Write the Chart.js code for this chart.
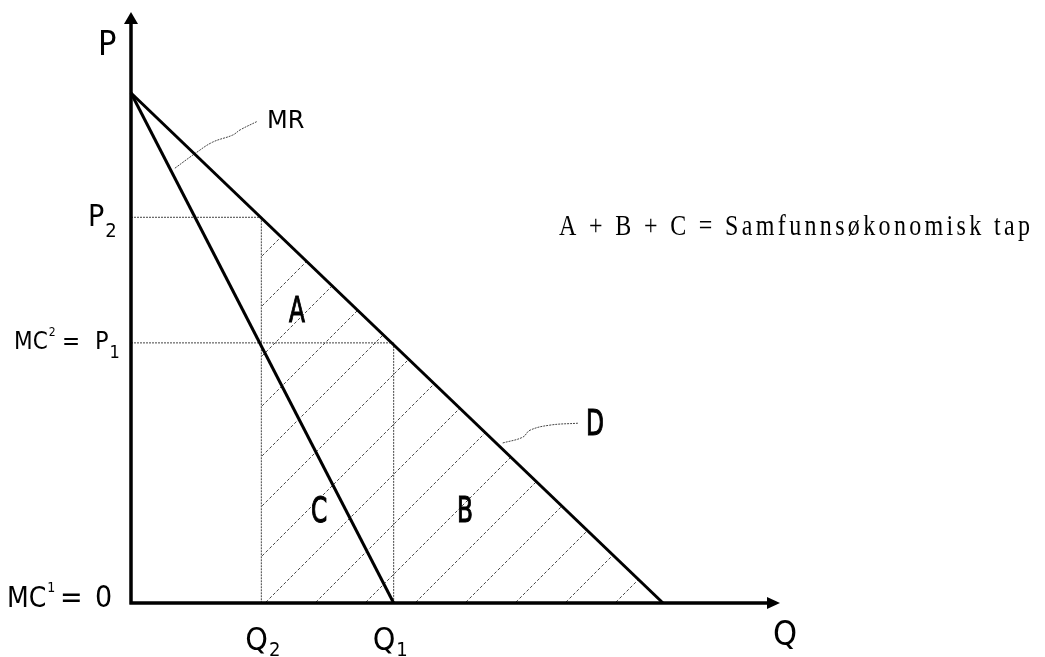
<!DOCTYPE html>
<html>
<head>
<meta charset="utf-8">
<script src="https://cdn.jsdelivr.net/npm/chart.js@4.4.1/dist/chart.umd.min.js"></script>
<style>
  body { margin: 0; background: #fff; }
  canvas { display: block; }
</style>
</head>
<body>
<canvas id="grafico" width="1045" height="657"></canvas>
<script>
// Etterspørsel (D) og marginalinntekt (MR)
const demandQ = [0, 8];
const demandP = [8, 0];
const mrQ = [0, 3.95];
const mrP = [8, 0];

// Monopol- og konkurranselikevekt
const q2 = 1.96, p2 = 6.05;
const q1 = 3.95, p1 = 4.08;

// Skravert område A + B + C (fra Q2 langs D ned til aksen)
const lossQ = [q2, 8];
const lossP = [p2, 0];

// Stiplede "pekere" til MR og D
const mrLeaderQ = [0.66, 0.99, 1.23, 1.53, 1.64, 1.89];
const mrLeaderP = [6.82, 7.07, 7.23, 7.34, 7.42, 7.55];
const dLeaderQ = [5.59, 5.89, 6.0, 6.3, 6.72];
const dLeaderP = [2.51, 2.6, 2.71, 2.79, 2.82];

// Aksenes lengde
const axisMaxQ = 9.76;
const axisMaxP = 9.27;

const pts = (xs, ys) => xs.map((x, i) => ({ x: x, y: ys[i] }));

// Mønster med skrå stiplede linjer
function lagSkravur() {
  const c = document.createElement("canvas");
  c.width = 50;
  c.height = 50;
  const g = c.getContext("2d");
  g.strokeStyle = "#444";
  g.lineWidth = 1;
  g.setLineDash([3, 2]);
  g.beginPath();
  g.moveTo(-2, 20); g.lineTo(20, -2);
  g.moveTo(16, 52); g.lineTo(52, 16);
  g.stroke();
  return g.createPattern(c, "repeat");
}

const ctx = document.getElementById("grafico").getContext("2d");
const cond = "'DejaVu Sans Condensed', 'DejaVu Sans', sans-serif";

// tekst med senket / hevet tegn rett etter
function skrivMed(c, main, ekstra, x, y, font, ekstraFont, dy) {
  c.font = font;
  c.fillText(main, x, y);
  const w = c.measureText(main).width;
  c.font = ekstraFont;
  c.fillText(ekstra, x + w + 1, y + dy);
  return x + w + 1 + c.measureText(ekstra).width;
}

const tekstPlugin = {
  id: "tekst",
  afterDraw(chart) {
    const c = chart.ctx;
    const xs = chart.scales.x, ys = chart.scales.y;
    const x0 = xs.getPixelForValue(0), y0 = ys.getPixelForValue(0);
    const xEnd = xs.getPixelForValue(axisMaxQ), yEnd = ys.getPixelForValue(axisMaxP);

    c.save();
    // akser
    c.strokeStyle = "#000";
    c.fillStyle = "#000";
    c.lineWidth = 3.5;
    c.beginPath();
    c.moveTo(x0, y0 + 1.5);
    c.lineTo(x0, yEnd + 8);
    c.moveTo(x0 - 1.5, y0);
    c.lineTo(xEnd - 8, y0);
    c.stroke();
    c.beginPath();
    c.moveTo(x0, yEnd);
    c.lineTo(x0 - 7, yEnd + 12);
    c.lineTo(x0 + 7, yEnd + 12);
    c.closePath();
    c.fill();
    c.beginPath();
    c.moveTo(xEnd, y0);
    c.lineTo(xEnd - 13, y0 - 6);
    c.lineTo(xEnd - 13, y0 + 6);
    c.closePath();
    c.fill();

    // etiketter
    c.textBaseline = "alphabetic";
    c.textAlign = "left";
    c.font = "34px " + cond;
    c.fillText("P", x0 - 33, 55);
    c.fillText("Q", xEnd - 7, 645);

    skrivMed(c, "P", "2", x0 - 43, ys.getPixelForValue(p2) + 9, "30px " + cond, "20px " + cond, 11);

    // MC² = P₁
    const yp1 = ys.getPixelForValue(p1) + 6;
    skrivMed(c, "MC", "2", 14, yp1, "24px " + cond, "12px " + cond, -13);
    c.font = "24px " + cond;
    c.fillText("=", 62, yp1);
    skrivMed(c, "P", "1", 95, yp1, "25px " + cond, "18px " + cond, 9);

    // MC¹ = 0
    skrivMed(c, "MC", "1", 7, y0 + 4, "28px " + cond, "14px " + cond, -15);
    c.font = "30px " + cond;
    c.fillText("=", 60, y0 + 4);
    c.fillText("0", 95, y0 + 4);

    skrivMed(c, "Q", "2", xs.getPixelForValue(q2) - 16, 650, "32px " + cond, "20px " + cond, 6);
    skrivMed(c, "Q", "1", xs.getPixelForValue(q1) - 21, 650, "32px " + cond, "20px " + cond, 6);

    c.font = "24px 'DejaVu Sans', sans-serif";
    c.fillText("MR", 267, 128);

    // A, B, C, D – smale bokstaver
    const smal = (t, x, y) => {
      c.save();
      c.translate(x, y);
      c.scale(0.74, 1);
      c.font = "35px " + cond;
      c.lineWidth = 1;
      c.fillText(t, 0, 0);
      c.strokeText(t, 0, 0);
      c.restore();
    };
    smal("A", 289, 322);
    smal("C", 311, 522);
    smal("B", 457, 522);
    smal("D", 586, 435);

    // A + B + C = Samfunnsøkonomisk tap
    const tekst = "A + B + C = Samfunnsøkonomisk tap";
    const sx = 0.8, start = 559, slutt = 1030;
    c.font = "30px 'Liberation Serif', 'Times New Roman', serif";
    const w = c.measureText(tekst).width;
    const sp = ((slutt - start) / sx - w) / (tekst.length - 1);
    for (let i = 0; i < tekst.length; i++) {
      const px = start + (c.measureText(tekst.slice(0, i)).width + i * sp) * sx;
      c.save();
      c.translate(px, 235);
      c.scale(sx, 1);
      c.fillText(tekst[i], 0, 0);
      c.restore();
    }
    c.restore();
  },
};

const stipletGuide = {
  borderColor: "#444",
  borderWidth: 1,
  borderDash: [2, 1],
  pointRadius: 0,
  fill: false,
  clip: false,
};

new Chart(ctx, {
  type: "line",
  data: {
    datasets: [
      { label: "D", data: pts(demandQ, demandP), borderColor: "#000", borderWidth: 3, pointRadius: 0, fill: false, clip: false },
      { label: "MR", data: pts(mrQ, mrP), borderColor: "#000", borderWidth: 3, pointRadius: 0, fill: false, clip: false },
      { label: "P2", data: pts([0, q2], [p2, p2]), ...stipletGuide },
      { label: "Q2", data: pts([q2, q2], [p2, 0]), ...stipletGuide },
      { label: "P1", data: pts([0, q1], [p1, p1]), ...stipletGuide },
      { label: "Q1", data: pts([q1, q1], [p1, 0]), ...stipletGuide },
      { label: "MR-peker", data: pts(mrLeaderQ, mrLeaderP), ...stipletGuide, tension: 0.4 },
      { label: "D-peker", data: pts(dLeaderQ, dLeaderP), ...stipletGuide, tension: 0.4 },
      {
        label: "Tap",
        data: pts(lossQ, lossP),
        borderWidth: 0,
        pointRadius: 0,
        backgroundColor: lagSkravur(),
        fill: "origin",
        clip: false,
      },
    ],
  },
  options: {
    responsive: false,
    animation: false,
    layout: { padding: { left: 131, right: 265, top: 12, bottom: 54 } },
    plugins: { legend: { display: false }, tooltip: { enabled: false } },
    scales: {
      x: { type: "linear", min: 0, max: axisMaxQ, display: false },
      y: { type: "linear", min: 0, max: axisMaxP, display: false },
    },
  },
  plugins: [tekstPlugin],
});
</script>
</body>
</html>
